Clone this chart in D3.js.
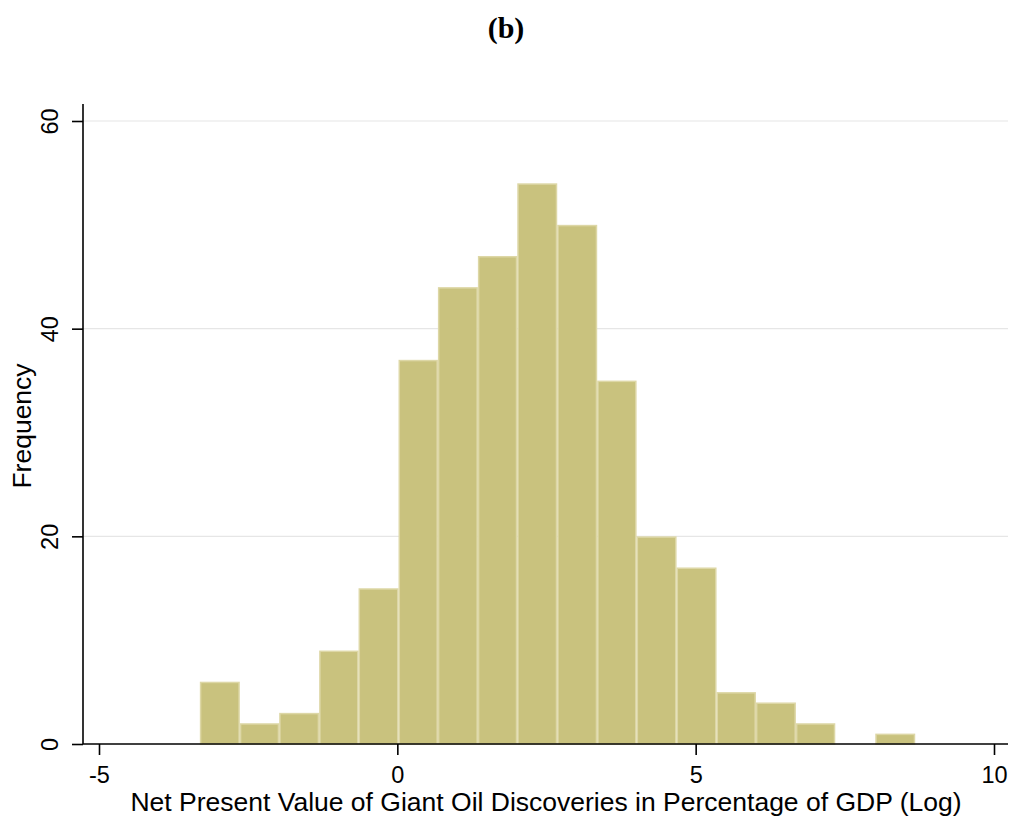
<!DOCTYPE html>
<html>
<head>
<meta charset="utf-8">
<script src="https://cdn.jsdelivr.net/npm/d3@7"></script>
<style>
  body { margin: 0; background: #fff; }
  svg { display: block; }
</style>
</head>
<body>
<div id="chart"></div>
<script>
// DATA
const binEdges = [-3.31, -2.64, -1.98, -1.31, -0.65, 0.02, 0.68, 1.35, 2.01, 2.68,
                  3.35, 4.01, 4.68, 5.35, 6.01, 6.68, 7.34, 8.01, 8.68];
const counts = [6, 2, 3, 9, 15, 37, 44, 47, 54, 50, 35, 20, 17, 5, 4, 2, 0, 1];
const xTicks = [-5, 0, 5, 10];
const yTicks = [0, 20, 40, 60];

const W = 1010, H = 818;
const plot = { left: 83, right: 1008, top: 104, bottom: 744 };
const sans = "Liberation Sans, Arial, Helvetica, sans-serif";

const svg = d3.select("#chart").append("svg")
    .attr("width", W)
    .attr("height", H);

// scales
const x = d3.scaleLinear().domain([-5, 10]).range([99, 994]);
const y = d3.scaleLinear().domain([0, 60]).range([plot.bottom, 121]);

const bins = counts.map((c, i) => ({ x0: binEdges[i], x1: binEdges[i + 1], n: c }));

// gridlines
svg.append("g")
    .selectAll("line")
    .data(yTicks.filter(d => d > 0))
    .join("line")
    .attr("x1", plot.left).attr("x2", plot.right)
    .attr("y1", d => y(d)).attr("y2", d => y(d))
    .attr("stroke", "#e6e6e6")
    .attr("stroke-width", 1.2);

// bars
svg.append("g")
    .selectAll("rect")
    .data(bins.filter(d => d.n > 0))
    .join("rect")
    .attr("x", d => x(d.x0) + 0.75)
    .attr("width", d => x(d.x1) - x(d.x0) - 1.5)
    .attr("y", d => y(d.n) + 0.75)
    .attr("height", d => y(0) - y(d.n) - 0.75)
    .attr("fill", "#c9c27e")
    .attr("stroke", "#ddd7a6")
    .attr("stroke-width", 1.5);

// Y axis
const yAxis = svg.append("g")
    .attr("transform", `translate(${plot.left},0)`)
    .call(d3.axisLeft(y).tickValues(yTicks).tickSize(11).tickSizeOuter(0));
yAxis.select(".domain").attr("d", `M0,${plot.top}V${plot.bottom}`).attr("stroke", "#000").attr("stroke-width", 1.6);
yAxis.selectAll(".tick line").attr("stroke", "#000").attr("stroke-width", 1.6);
yAxis.selectAll(".tick text")
    .attr("font-family", sans)
    .attr("font-size", 23.5)
    .attr("fill", "#000")
    .attr("transform", "rotate(-90)")
    .attr("x", 0)
    .attr("y", -25)
    .attr("dy", 0)
    .style("text-anchor", "middle");

// X axis
const xAxis = svg.append("g")
    .attr("transform", `translate(0,${plot.bottom})`)
    .call(d3.axisBottom(x).tickValues(xTicks).tickFormat(d => String(d))
        .tickSize(11).tickPadding(11).tickSizeOuter(0));
xAxis.select(".domain").attr("d", `M${plot.left},0H${plot.right}`).attr("stroke", "#000").attr("stroke-width", 1.6);
xAxis.selectAll(".tick line").attr("stroke", "#000").attr("stroke-width", 1.6);
xAxis.selectAll(".tick text")
    .attr("font-family", sans)
    .attr("font-size", 23.5)
    .attr("fill", "#000");

// axis titles
svg.append("text")
    .attr("x", 546)
    .attr("y", 811)
    .attr("text-anchor", "middle")
    .attr("font-family", sans)
    .attr("font-size", 26.5)
    .text("Net Present Value of Giant Oil Discoveries in Percentage of GDP (Log)");

svg.append("text")
    .attr("transform", "translate(31,426) rotate(-90)")
    .attr("text-anchor", "middle")
    .attr("font-family", sans)
    .attr("font-size", 26.5)
    .text("Frequency");

// panel title
svg.append("text")
    .attr("x", 506)
    .attr("y", 38)
    .attr("text-anchor", "middle")
    .attr("font-family", "Liberation Serif, Times New Roman, serif")
    .attr("font-weight", "bold")
    .attr("font-size", 30)
    .text("(b)");
</script>
</body>
</html>
